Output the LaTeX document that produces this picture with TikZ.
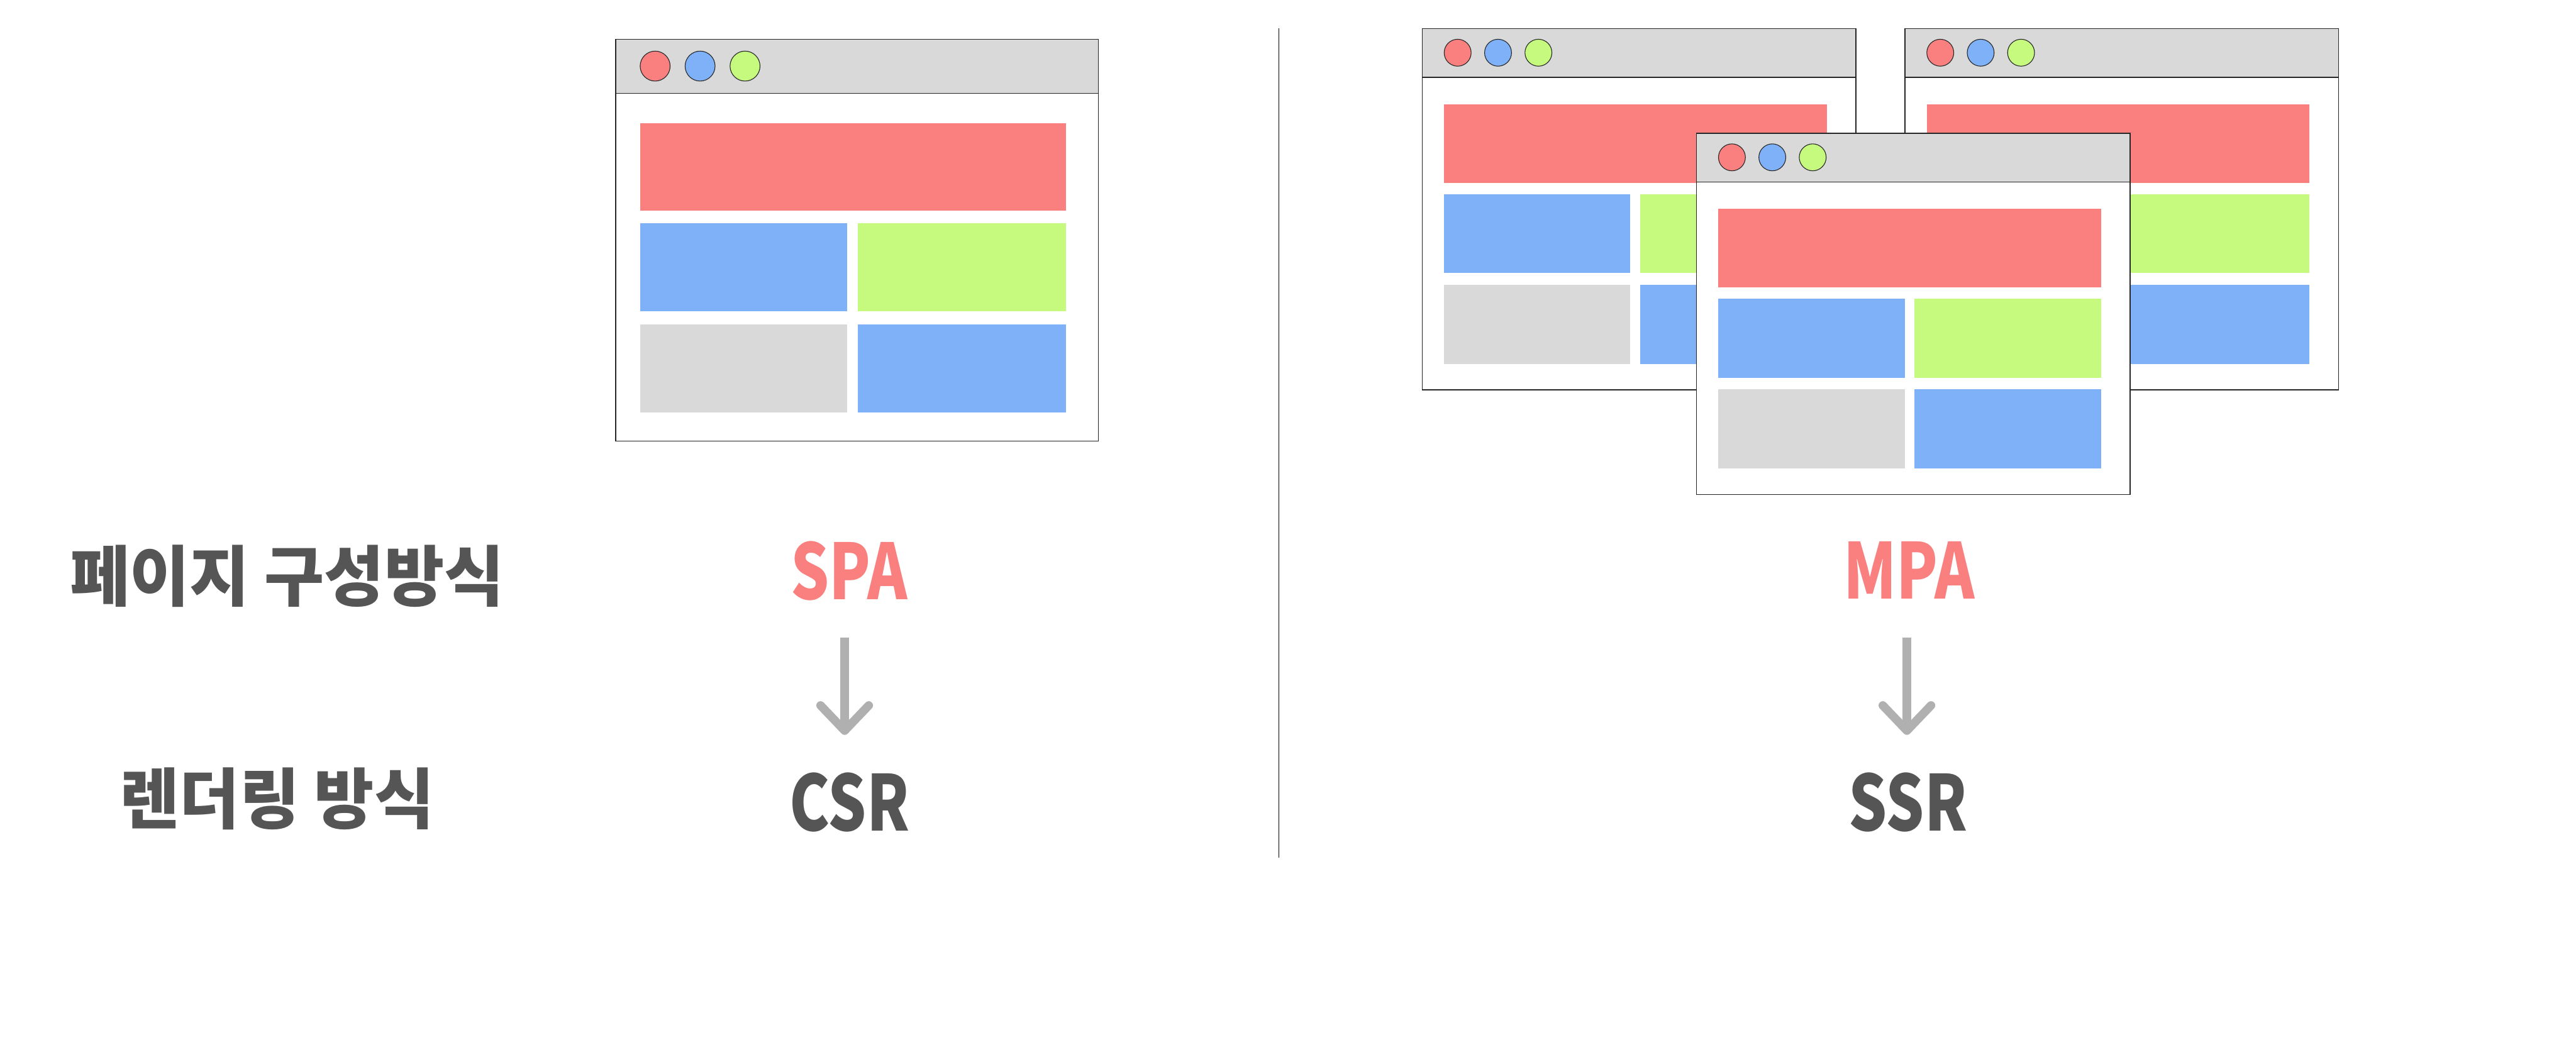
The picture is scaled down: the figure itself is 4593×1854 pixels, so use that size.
\documentclass[tikz,border=0pt]{standalone}
\usepackage{fontspec}
\newfontfamily\krfont[FakeStretch=0.985]{Noto Sans CJK KR}
\newfontfamily\latfont[FakeStretch=0.785]{Noto Sans CJK KR}
\definecolor{cred}{HTML}{FA8080}
\definecolor{cblue}{HTML}{7FB1F9}
\definecolor{cgreen}{HTML}{C6FA7E}
\definecolor{cgray}{HTML}{D9D9D9}
\definecolor{txtgray}{HTML}{555555}
\definecolor{arrgray}{HTML}{B0B0B0}
\tikzset{
  winline/.style={draw=black!85, line width=0.45pt},
  dotline/.style={draw=black!85, line width=0.35pt},
  krlabel/.style={font=\krfont\bfseries\fontsize{33.5}{33.5}\selectfont, text=txtgray, inner sep=0pt, anchor=base},
  latlabel/.style={font=\latfont\bfseries\fontsize{39}{39}\selectfont, inner sep=0pt, anchor=base},
  shaft/.style={draw=arrgray, line width=4.3pt, line cap=butt},
  barbs/.style={draw=arrgray, line width=4.3pt, line cap=round, line join=round},
}
\newcommand{\bwin}[3]{%
  \begin{scope}[shift={(#1,#2)},scale=#3]
    \fill[white] (0,0) rectangle (773,644);
    \fill[cgray] (0,0) rectangle (773,87);
    \draw[winline] (0,87) -- (773,87);
    \draw[winline] (0,0) rectangle (773,644);
    \filldraw[dotline, fill=cred] (63,43) circle[radius=24];
    \filldraw[dotline, fill=cblue] (135,43) circle[radius=24];
    \filldraw[dotline, fill=cgreen] (207,43) circle[radius=24];
    \fill[cred] (39,135) rectangle (721,275);
    \fill[cblue] (39,295) rectangle (371,436);
    \fill[cgreen] (388,295) rectangle (721,436);
    \fill[cgray] (39,457) rectangle (371,598);
    \fill[cblue] (388,457) rectangle (721,598);
  \end{scope}}
\begin{document}
\begin{tikzpicture}[x=0.01cm,y=-0.01cm]
\useasboundingbox (0,0) rectangle (4593,1854);
% left window
\bwin{1098}{70}{1.113}
% divider
\coordinate (dtop) at (2280,50);
\coordinate (dbot) at (2280,1530);
\draw[black, line width=0.45pt] (dtop) -- (dbot);
% right windows
\bwin{2536}{51}{1}
\bwin{3396.5}{51}{1}
\bwin{3025}{237.6}{1}
% labels
\node[krlabel] (lbl1) at (512,1071) {페이지 구성방식};
\node[krlabel] (lbl2) at (494,1468) {렌더링 방식};
\node[latlabel, text=cred] (spa) at (1514,1069) {SPA};
\node[latlabel, text=txtgray] (csr) at (1515,1482) {CSR};
\node[latlabel, text=cred] (mpa) at (3404,1068) {MPA};
\node[latlabel, text=txtgray] (ssr) at (3402,1482) {SSR};
% arrows
\coordinate (a1s) at (1506,1137);
\coordinate (a1e) at (1506,1303);
\coordinate (a2s) at (3400,1137);
\coordinate (a2e) at (3400,1303);
\draw[shaft] (a1s) -- ([yshift=2]a1e);
\draw[barbs] ([shift={(-43,-45)}]a1e) -- (a1e) -- ([shift={(43,-45)}]a1e);
\draw[shaft] (a2s) -- ([yshift=2]a2e);
\draw[barbs] ([shift={(-43,-45)}]a2e) -- (a2e) -- ([shift={(43,-45)}]a2e);
\end{tikzpicture}
\end{document}
